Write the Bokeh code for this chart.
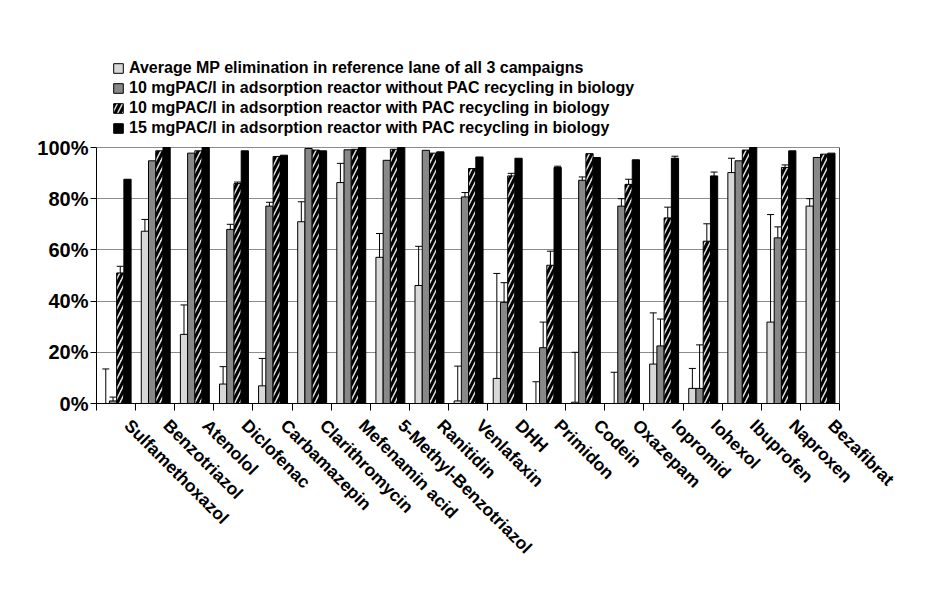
import math
from bokeh.plotting import figure
from bokeh.models import (ColumnDataSource, Whisker, TeeHead, FixedTicker, Legend,
                          LegendItem, Range1d, PrintfTickFormatter, LinearAxis)
from bokeh.embed import file_html
from bokeh.resources import INLINE

categories = ["Sulfamethoxazol", "Benzotriazol", "Atenolol", "Diclofenac", "Carbamazepin",
              "Clarithromycin", "Mefenamin acid", "5-Methyl-Benzotriazol", "Ranitidin",
              "Venlafaxin", "DHH", "Primidon", "Codein", "Oxazepam", "Iopromid", "Iohexol",
              "Ibuprofen", "Naproxen", "Bezafibrat"]

series_names = ["Average MP elimination in reference lane of all 3 campaigns",
                "10 mgPAC/l in adsorption reactor without PAC recycling in biology",
                "10 mgPAC/l in adsorption reactor with PAC recycling in biology",
                "15 mgPAC/l in adsorption reactor with PAC recycling in biology"]

ref_lane = [0, 67.3, 27, 7.6, 6.9, 71, 86.3, 57.1, 46.1, 1, 9.8, 0, 0.5, 0, 15.4, 5.9, 90.2, 31.8, 77.1]
ref_lane_err = [13.5, 4.6, 11.5, 6.8, 10.7, 7.8, 7.5, 9.3, 15.3, 13.6, 41, 8.5, 19.5, 12.2, 20, 7.8, 5.6, 42, 2.9]

pac10_norec = [1, 94.8, 97.8, 68, 77.1, 99.6, 99.1, 95, 98.9, 80.7, 39.5, 21.8, 87.2, 77.1, 22.5, 5.9, 94.8, 64.7, 96.1]
pac10_norec_err = [1.5, 0, 0, 2, 1.5, 0, 0, 0, 0, 1.7, 7.7, 10, 1.3, 2.9, 10.5, 17, 0, 4.3, 0]

pac10_rec = [51, 98.7, 98.7, 85.9, 96.5, 99, 99.3, 99.3, 97.8, 91.8, 88.9, 54, 97.6, 85.6, 72.5, 63.4, 99, 92.2, 97.4]
pac10_rec_err = [2.6, 0, 0, 0.6, 0, 0, 0, 0, 0, 0, 1, 5.5, 0, 2, 4.2, 6.8, 0, 1, 0]

pac15_rec = [87.6, 100, 100, 98.7, 97, 98.7, 100, 100, 98.3, 96.3, 95.8, 92.2, 96.1, 95.2, 95.8, 88.9, 100, 98.7, 97.8]
pac15_rec_err = [0, 0, 0, 0, 0, 0, 0, 0, 0, 0, 0, 0.5, 0, 0, 0.8, 1.5, 0, 0, 0]

y_ticks = [0, 20, 40, 60, 80, 100]

FONT = "Liberation Sans"
n = len(categories)

# frame: 0..100 % occupies the lower 256 px, the legend lives in the area above
FRAME_TOP, FRAME_BOTTOM = 41, 403
y_end = 100.0 * (FRAME_BOTTOM - FRAME_TOP) / 256.0

p = figure(width=936, height=576, output_backend="svg", toolbar_location=None,
           x_range=Range1d(0, n), y_range=Range1d(0, y_end),
           min_border_left=96, min_border_right=97, min_border_top=FRAME_TOP,
           min_border_bottom=576 - FRAME_BOTTOM)
p.background_fill_color = "white"
p.border_fill_color = "white"
p.outline_line_color = None

p.xgrid.visible = False
p.ygrid.ticker = FixedTicker(ticks=y_ticks)
p.ygrid.grid_line_color = "#8c8c8c"
p.ygrid.grid_line_width = 1

# y axis
p.yaxis.ticker = FixedTicker(ticks=y_ticks)
p.yaxis.bounds = (0, 100)
p.yaxis.formatter = PrintfTickFormatter(format="%d%%")
p.yaxis.major_label_text_font = FONT
p.yaxis.major_label_text_font_style = "bold"
p.yaxis.major_label_text_font_size = "20px"
p.yaxis.major_label_text_color = "black"
p.yaxis.axis_line_color = "black"
p.yaxis.major_tick_line_color = "black"
p.yaxis.major_tick_out = 6
p.yaxis.major_tick_in = 0
p.yaxis.minor_tick_line_color = None
p.yaxis.major_label_standoff = 2

# right frame border
right = LinearAxis(bounds=(0, 100), ticker=FixedTicker(ticks=[]),
                   axis_line_color="#444444", major_tick_line_color=None,
                   minor_tick_line_color=None, major_label_text_font_size="0px")
p.add_layout(right, "right")

# x axis
label_pos = [i + 0.79 for i in range(n)]
p.xaxis.ticker = FixedTicker(ticks=label_pos, minor_ticks=list(range(n + 1)))
p.xaxis.major_label_overrides = {c: name for c, name in zip(label_pos, categories)}
p.xaxis.major_label_orientation = -math.pi / 4
p.xaxis.major_label_text_font = FONT
p.xaxis.major_label_text_font_style = "bold"
p.xaxis.major_label_text_font_size = "17.5px"
p.xaxis.major_label_text_color = "black"
p.xaxis.major_tick_out = 0
p.xaxis.major_tick_in = 0
p.xaxis.minor_tick_out = 7
p.xaxis.minor_tick_in = 0
p.xaxis.minor_tick_line_color = "black"
p.xaxis.axis_line_color = "black"
p.xaxis.major_label_standoff = 12

bar_w = 0.185
group_center = 0.515
offsets = [-1.5 * bar_w, -0.5 * bar_w, 0.5 * bar_w, 1.5 * bar_w]
values = [ref_lane, pac10_norec, pac10_rec, pac15_rec]
errors = [ref_lane_err, pac10_norec_err, pac10_rec_err, pac15_rec_err]
fills = ["#d8d8d8", "#888888", "#e2e2e2", "#000000"]

items = []
for k in range(4):
    xs = [i + group_center + offsets[k] for i in range(n)]
    src = ColumnDataSource(dict(x=xs, top=values[k]))
    kw = {}
    if k == 2:
        kw = dict(hatch_pattern="/", hatch_color="black", hatch_weight=3, hatch_scale=10)
    r = p.vbar(x="x", top="top", width=bar_w, bottom=0, source=src,
               fill_color=fills[k], line_color="black", line_width=1, **kw)
    items.append(LegendItem(label=series_names[k], renderers=[r]))

    wx, wu, wl = [], [], []
    for i in range(n):
        e = errors[k][i]
        if e > 0:
            v = values[k][i]
            wx.append(xs[i])
            wu.append(min(v + e, 100))
            wl.append(max(v - e, 0))
    wsrc = ColumnDataSource(dict(base=wx, upper=wu, lower=wl))
    w = Whisker(base="base", upper="upper", lower="lower", source=wsrc,
                line_color="black", line_width=1,
                upper_head=TeeHead(size=7, line_color="black", line_width=1),
                lower_head=TeeHead(size=7, line_color="black", line_width=1))
    p.add_layout(w)

legend = Legend(items=items, location=(16, 266), orientation="vertical",
                margin=0, padding=0, spacing=2, glyph_width=12, glyph_height=12,
                label_standoff=5, label_text_font=FONT, label_text_font_style="bold",
                label_text_font_size="16px", label_text_color="black",
                border_line_color=None, background_fill_alpha=0)
p.add_layout(legend)

open("out.html", "w").write(file_html(p, INLINE))
